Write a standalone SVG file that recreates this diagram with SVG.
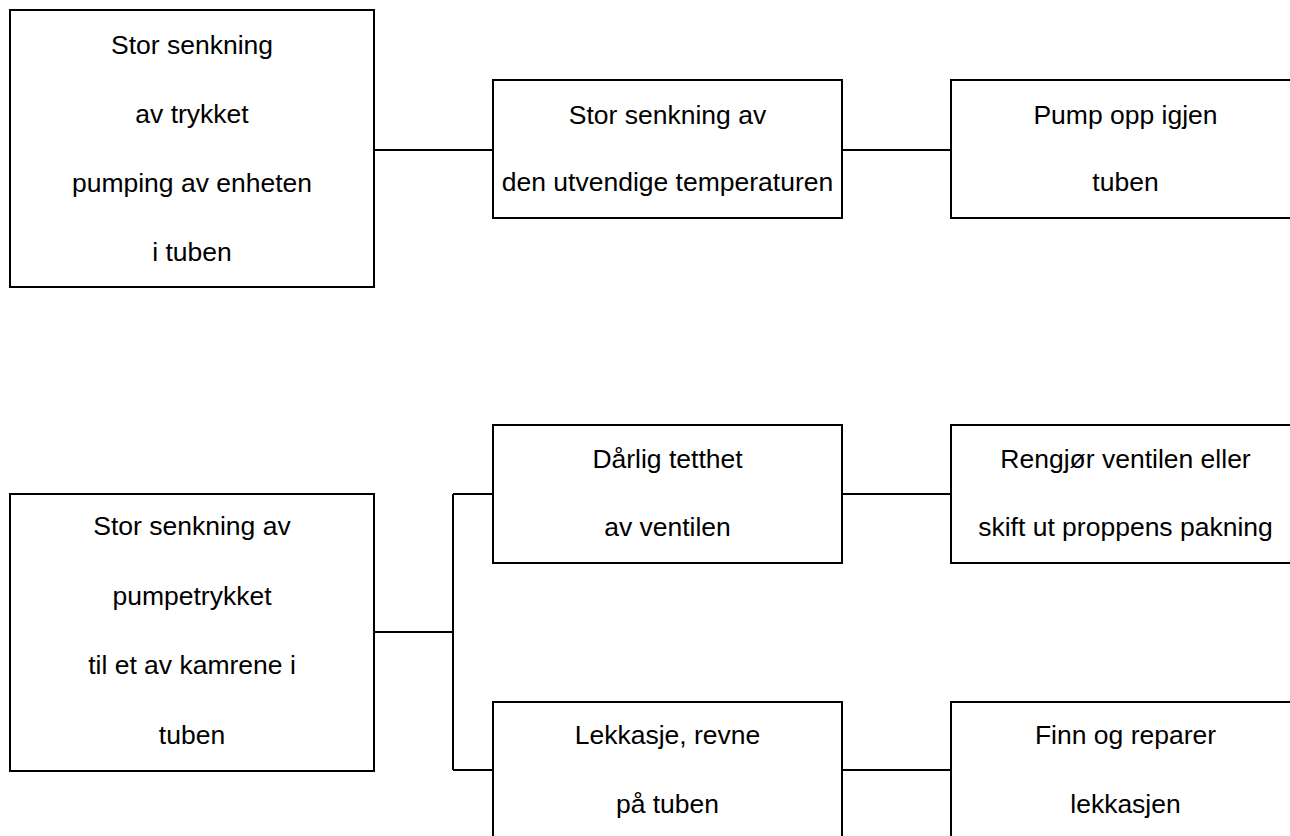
<svg xmlns="http://www.w3.org/2000/svg" width="1290" height="836" viewBox="0 0 1290 836">
<style>
.box{fill:#fff;stroke:#000;stroke-width:2}
.con{fill:none;stroke:#000;stroke-width:2}
text{font-family:"Liberation Sans",Arial,sans-serif;font-size:26.5px;fill:#000;text-anchor:middle}
</style>
<rect width="1290" height="836" fill="#fff"/>
<g id="connectors">
<path class="con" d="M374,150H493"/>
<path class="con" d="M842,150H951"/>
<path class="con" d="M374,632H453M453,494V770M453,494H493M453,770H493"/>
<path class="con" d="M842,494H951"/>
<path class="con" d="M842,770H951"/>
</g>
<g id="n1">
<rect class="box" x="10" y="10" width="364" height="277"/>
<text x="192" y="53.5">Stor senkning</text>
<text x="192" y="122.5">av trykket</text>
<text x="192" y="191.5">pumping av enheten</text>
<text x="192" y="260.5">i tuben</text>
</g>
<g id="n2">
<rect class="box" x="493" y="80" width="349" height="138"/>
<text x="667.5" y="123.5">Stor senkning av</text>
<text x="667.5" y="191">den utvendige temperaturen</text>
</g>
<g id="n3">
<rect class="box" x="951" y="80" width="349" height="138"/>
<text x="1125.5" y="123.5">Pump opp igjen</text>
<text x="1125.5" y="191">tuben</text>
</g>
<g id="n4">
<rect class="box" x="10" y="494" width="364" height="277"/>
<text x="192" y="535">Stor senkning av</text>
<text x="192" y="604.5">pumpetrykket</text>
<text x="192" y="674">til et av kamrene i</text>
<text x="192" y="743.5">tuben</text>
</g>
<g id="n5">
<rect class="box" x="493" y="425" width="349" height="138"/>
<text x="667.5" y="467.5">Dårlig tetthet</text>
<text x="667.5" y="536">av ventilen</text>
</g>
<g id="n6">
<rect class="box" x="951" y="425" width="349" height="138"/>
<text x="1125.5" y="467.5">Rengjør ventilen eller</text>
<text x="1125.5" y="536">skift ut proppens pakning</text>
</g>
<g id="n7">
<rect class="box" x="493" y="702" width="349" height="138"/>
<text x="667.5" y="744">Lekkasje, revne</text>
<text x="667.5" y="812.5">på tuben</text>
</g>
<g id="n8">
<rect class="box" x="951" y="702" width="349" height="138"/>
<text x="1125.5" y="744">Finn og reparer</text>
<text x="1125.5" y="812.5">lekkasjen</text>
</g>
</svg>
